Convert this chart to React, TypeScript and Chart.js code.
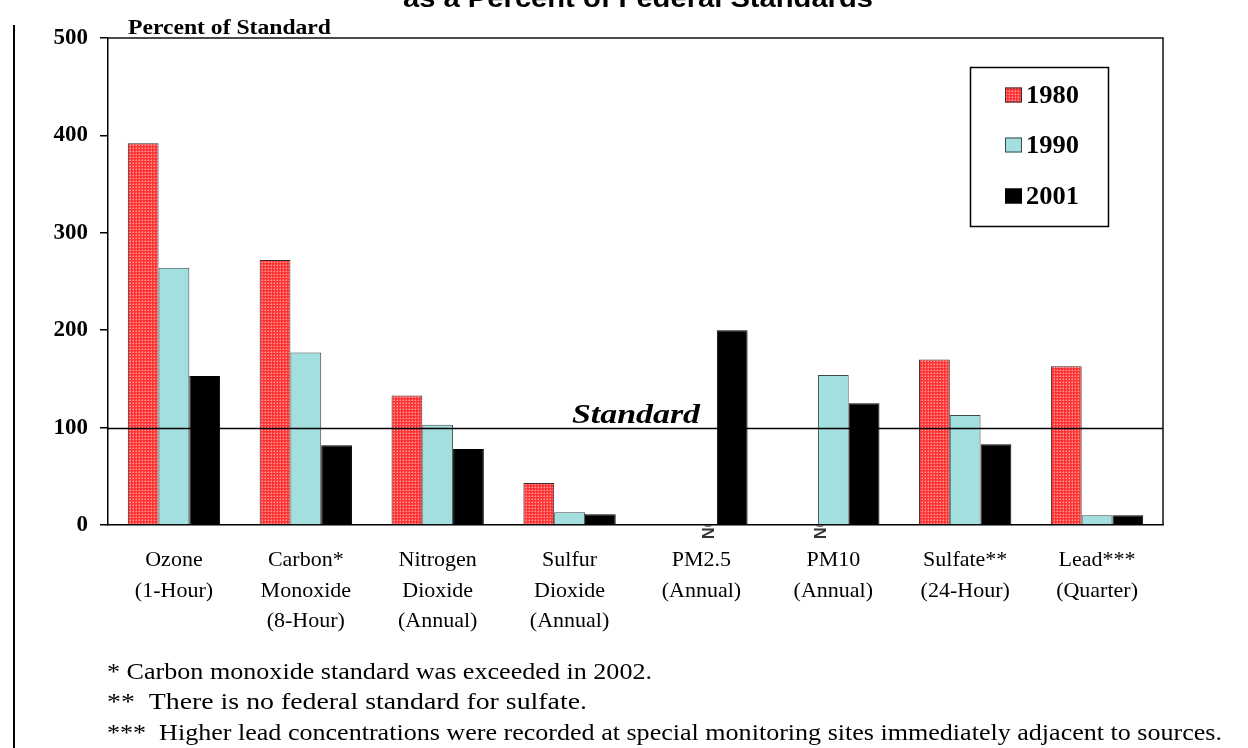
import React, { useEffect, useRef } from "react";
import { Chart, registerables } from "chart.js";

Chart.register(...registerables);

const categories: string[][] = [
  ["Ozone", "(1-Hour)"],
  ["Carbon*", "Monoxide", "(8-Hour)"],
  ["Nitrogen", "Dioxide", "(Annual)"],
  ["Sulfur", "Dioxide", "(Annual)"],
  ["PM2.5", "(Annual)"],
  ["PM10", "(Annual)"],
  ["Sulfate**", "(24-Hour)"],
  ["Lead***", "(Quarter)"],
];
const seriesNames = ["1980", "1990", "2001"];
const values1980 = [392, 272, 133, 43, null, null, 170, 163];
const values1990 = [264, 177, 103, 13, null, 154, 113, 10];
const values2001 = [153, 82, 78, 11, 200, 125, 83, 10];
const yTickStep = 100;
const yMin = 0;
const yMax = 500;
const standardValue = 100;
const standardLabel = "Standard";
const yAxisTitle = "Percent of Standard";
const chartTitle = "as a Percent of Federal Standards";
const notAvailableCategories = [4, 5];
const notAvailableLabel = "NO";
const footnotes = [
  "* Carbon monoxide standard was exceeded in 2002.",
  "**  There is no federal standard for sulfate.",
  "***  Higher lead concentrations were recorded at special monitoring sites immediately adjacent to sources.",
];

const SERIF = "'Liberation Serif', 'DejaVu Serif', serif";
const SANS = "'Liberation Sans', Arial, sans-serif";

function makeRedPattern(): CanvasPattern | string {
  const c = document.createElement("canvas");
  c.width = 3;
  c.height = 3;
  const g = c.getContext("2d");
  if (!g) return "#ff4f4f";
  g.fillStyle = "#ff3434";
  g.fillRect(0, 0, 3, 3);
  g.fillStyle = "#ff9c9c";
  g.fillRect(1, 1, 1, 1);
  g.fillStyle = "#ff6a6a";
  g.fillRect(0, 1, 1, 1);
  g.fillRect(1, 0, 1, 1);
  const p = g.createPattern(c, "repeat");
  return p || "#ff4f4f";
}

function drawFitted(
  ctx: CanvasRenderingContext2D,
  text: string,
  left: number,
  baseline: number,
  width: number,
  font: string,
  color: string
) {
  ctx.save();
  ctx.font = font;
  ctx.fillStyle = color;
  ctx.textAlign = "left";
  ctx.textBaseline = "alphabetic";
  const w = ctx.measureText(text).width || 1;
  ctx.translate(left, baseline);
  ctx.scale(width / w, 1);
  ctx.fillText(text, 0, 0);
  ctx.restore();
}

const decorPlugin = {
  id: "decor",
  afterDraw(chart: any) {
    const ctx: CanvasRenderingContext2D = chart.ctx;
    const area = chart.chartArea;
    const xs = chart.scales.x;
    const ys = chart.scales.y;

    // frame top & right
    ctx.save();
    ctx.strokeStyle = "#111";
    ctx.lineWidth = 1.5;
    ctx.beginPath();
    ctx.moveTo(area.left, area.top);
    ctx.lineTo(area.right, area.top);
    ctx.lineTo(area.right, area.bottom);
    ctx.stroke();

    // standard line
    const sy = Math.round(ys.getPixelForValue(standardValue)) + 0.5;
    ctx.lineWidth = 1.5;
    ctx.strokeStyle = "#000";
    ctx.beginPath();
    ctx.moveTo(area.left, sy);
    ctx.lineTo(area.right, sy);
    ctx.stroke();

    // left page line
    ctx.lineWidth = 2;
    ctx.beginPath();
    ctx.moveTo(14, 25);
    ctx.lineTo(14, 748);
    ctx.stroke();
    ctx.restore();

    // texts
    drawFitted(ctx, chartTitle, 403, 7, 470, `bold 25px ${SANS}`, "#000");
    drawFitted(ctx, yAxisTitle, 128, 34, 203, `bold 20px ${SERIF}`, "#000");
    drawFitted(ctx, standardLabel, 572, sy - 6, 128, `italic bold 28px ${SERIF}`, "#000");
    const fnLeft = 107;
    const fnWidths = [545, 480, 1115];
    const fnBase = [679, 709, 740];
    footnotes.forEach((t, i) =>
      drawFitted(ctx, t, fnLeft, fnBase[i], fnWidths[i], `24px ${SERIF}`, "#000")
    );

    // NO marks
    const noOffsets = [8, -12];
    notAvailableCategories.forEach((ci, i) => {
      const px = xs.getPixelForValue(ci) + noOffsets[i];
      ctx.save();
      ctx.beginPath();
      ctx.rect(px - 15, area.bottom + 0.5, 30, 30);
      ctx.clip();
      ctx.translate(px, area.bottom);
      ctx.rotate(-Math.PI / 2);
      ctx.font = `bold 16px ${SANS}`;
      ctx.fillStyle = "#333";
      ctx.textAlign = "right";
      ctx.textBaseline = "middle";
      ctx.fillText(notAvailableLabel, 10, 0);
      ctx.restore();
    });

    // legend
    ctx.save();
    ctx.strokeStyle = "#000";
    ctx.lineWidth = 1.5;
    ctx.strokeRect(970.5, 67.5, 138, 159);
    const rows = [95, 145, 196];
    chart.data.datasets.forEach((ds: any, i: number) => {
      const cy = rows[i];
      ctx.fillStyle = ds.backgroundColor;
      ctx.fillRect(1005, cy - 7.5, 17, 15);
      ctx.strokeStyle = ds.borderColor;
      ctx.lineWidth = 1;
      ctx.strokeRect(1005.5, cy - 7, 16, 14);
      drawFitted(ctx, ds.label, 1026, cy + 8, 53, `bold 25px ${SERIF}`, "#000");
    });
    ctx.restore();
  },
};

export default function App() {
  const ref = useRef<HTMLCanvasElement | null>(null);
  useEffect(() => {
    if (!ref.current) return;
    const red = makeRedPattern();
    const common = { borderWidth: 1, categoryPercentage: 0.7, barPercentage: 1 };
    const chart = new Chart(ref.current, {
      type: "bar",
      data: {
        labels: categories,
        datasets: [
          { label: seriesNames[0], data: values1980, backgroundColor: red, borderColor: "#3a2a2a", ...common },
          { label: seriesNames[1], data: values1990, backgroundColor: "#a3dfdf", borderColor: "#3a4a4a", ...common },
          { label: seriesNames[2], data: values2001, backgroundColor: "#000000", borderColor: "#000000", ...common },
        ] as any,
      },
      options: {
        animation: false,
        responsive: false,
        events: [],
        layout: { padding: { top: 38, right: 85, left: 0, bottom: 0 } },
        plugins: { legend: { display: false }, tooltip: { enabled: false }, title: { display: false } },
        scales: {
          x: {
            grid: { display: false, drawTicks: false },
            border: { color: "#000", width: 1.5 },
            ticks: {
              color: "#000",
              padding: 20,
              maxRotation: 0,
              autoSkip: false,
              font: { family: SERIF, size: 22, lineHeight: 1.39 },
            },
            afterFit(s: any) {
              s.height = 223;
            },
          },
          y: {
            min: yMin,
            max: yMax,
            grid: { drawOnChartArea: false, drawTicks: true, tickLength: 8, color: "#000", lineWidth: 1.5 },
            border: { color: "#000", width: 1.5 },
            ticks: {
              stepSize: yTickStep,
              color: "#000",
              padding: 12,
              font: { family: SERIF, size: 23, weight: "bold" },
            },
            afterFit(s: any) {
              s.width = 108;
            },
          },
        },
      } as any,
      plugins: [decorPlugin],
    });
    return () => chart.destroy();
  }, []);
  return (
    <canvas
      ref={ref}
      width={1248}
      height={748}
      style={{ position: "absolute", left: 0, top: 0, width: 1248, height: 748, background: "#fff" }}
    />
  );
}
